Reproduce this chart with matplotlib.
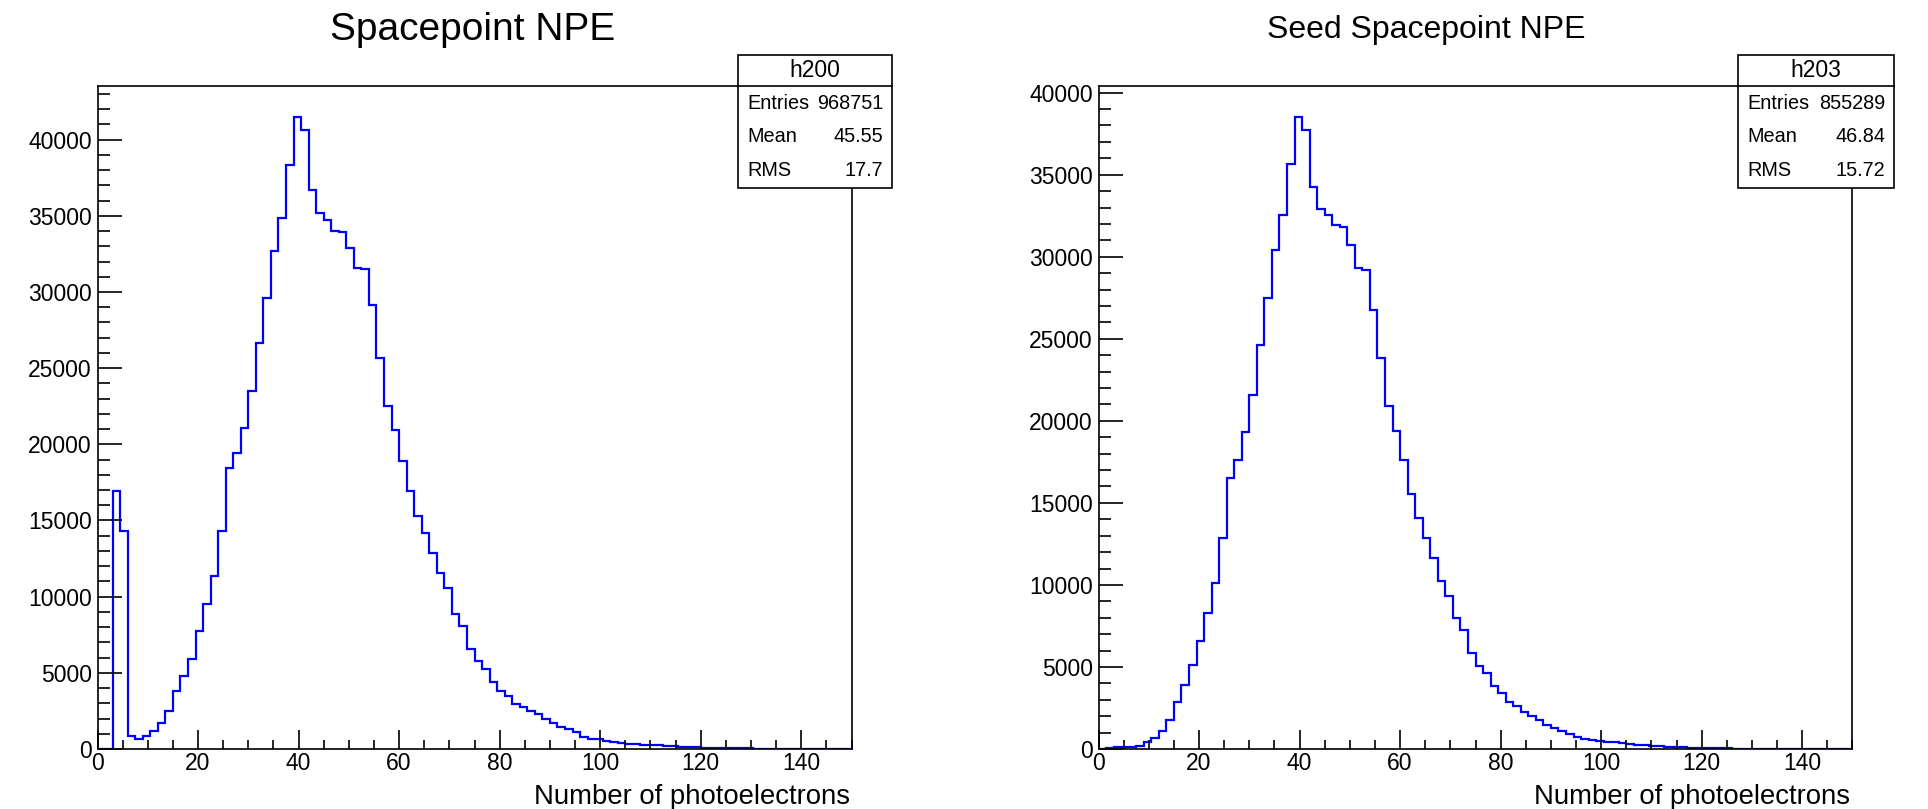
import numpy as np
import matplotlib
matplotlib.use("Agg")
import matplotlib.pyplot as plt
from matplotlib.patches import Rectangle
from matplotlib.lines import Line2D
from matplotlib.ticker import MultipleLocator

plt.rcParams["font.family"] = ["Liberation Sans", "DejaVu Sans"]

W, H = 1928, 809

# 100 bins of 1.5 photoelectrons, 0..150
edges = np.linspace(0, 150, 101)

npe_all = [
    0, 30, 16960, 14340, 850, 680, 850, 1180, 1680, 2510,
    3800, 4800, 5940, 7730, 9540, 11330, 14320, 18420, 19450, 21090,
    23510, 26650, 29600, 32720, 34880, 38330, 41480, 40650, 36690, 35210,
    34740, 34030, 33950, 32900, 31590, 31500, 29120, 25670, 22530, 20930,
    18900, 16960, 15320, 14170, 12860, 11550, 10540, 8880, 8080, 6590,
    5760, 5260, 4430, 3820, 3450, 2970, 2770, 2490, 2270, 1940,
    1680, 1460, 1310, 1090, 770, 670, 630, 540, 440, 400,
    360, 320, 290, 260, 230, 200, 170, 150, 130, 110,
    90, 80, 60, 50, 45, 40, 35, 30, 28, 25,
    22, 20, 18, 16, 15, 13, 12, 0, 11, 10,
]
npe_seed = [
    20, 50, 100, 120, 150, 210, 410, 660, 1120, 1770,
    2840, 3900, 5110, 6590, 8270, 10130, 12850, 16540, 17630, 19310,
    21580, 24620, 27510, 30390, 32550, 35650, 38510, 37740, 34220, 32880,
    32550, 31940, 31790, 30730, 29320, 29200, 26760, 23850, 20920, 19390,
    17610, 15570, 14090, 12860, 11630, 10240, 9350, 7980, 7250, 5830,
    5080, 4610, 3830, 3430, 2870, 2600, 2240, 1990, 1760, 1480,
    1290, 1120, 920, 730, 590, 530, 480, 450, 420, 360,
    300, 260, 220, 190, 160, 140, 120, 100, 80, 70,
    60, 50, 40, 35, 30, 28, 25, 22, 20, 18,
    16, 15, 13, 12, 11, 10, 0, 9, 8, 0,
]

titles = ["Spacepoint NPE", "Seed Spacepoint NPE"]
title_size = [28, 23]
names = ["h200", "h203"]
entries = ["968751", "855289"]
means = ["45.55", "46.84"]
rmss = ["17.7", "15.72"]
xlabel = "Number of photoelectrons"

# pixel geometry (left, right) of each frame, shared top/bottom
frames = [(97.5, 851.5), (1098.5, 1852.5)]
top, bottom = 85.5, 749.0
boxes = [(737.5, 891.5), (1737.5, 1893.5)]
title_x = [473, 1426]

fx = lambda x: x / W
fy = lambda y: 1 - y / H

fig = plt.figure(figsize=(W / 100, H / 100), dpi=100)

for k, vals in enumerate([npe_all, npe_seed]):
    x0, x1 = frames[k]
    ax = fig.add_axes([fx(x0), fy(bottom), fx(x1 - x0), (bottom - top) / H])
    ax.stairs(vals, edges, baseline=0, color="#0000ff", lw=1.6)
    ax.set_xlim(0, 150)
    ax.set_ylim(0, 1.05 * max(vals))
    ax.xaxis.set_major_locator(MultipleLocator(20))
    ax.xaxis.set_minor_locator(MultipleLocator(5))
    ax.yaxis.set_major_locator(MultipleLocator(5000))
    ax.yaxis.set_minor_locator(MultipleLocator(1000))
    ax.tick_params(which="both", direction="in", top=False, right=False,
                   width=1.2, labelsize=16.5, colors="black")
    ax.tick_params(axis="y", which="major", length=17, pad=4)
    ax.tick_params(axis="y", which="minor", length=8.5)
    ax.tick_params(axis="x", which="major", length=13.5, pad=2)
    ax.tick_params(axis="x", which="minor", length=6.8)
    for s in ax.spines.values():
        s.set_linewidth(1.2)

    fig.text(fx(x1 - 2), fy(797), xlabel, ha="right", va="center", fontsize=19.8)
    fig.text(fx(title_x[k]), fy(30), titles[k], ha="center", va="center",
             fontsize=title_size[k])

    # stats box
    b0, b1 = boxes[k]
    fig.add_artist(Rectangle((fx(b0), fy(187.5)), fx(b1 - b0), (187.5 - 54.7) / H,
                             transform=fig.transFigure, facecolor="white",
                             edgecolor="black", lw=1.2, zorder=5))
    fig.add_artist(Line2D([fx(b0), fx(b1)], [fy(85.5), fy(85.5)],
                          transform=fig.transFigure, color="black", lw=1.2, zorder=6))
    fig.text(fx((b0 + b1) / 2), fy(70.5), names[k], ha="center", va="center",
             fontsize=16.5, zorder=7)
    for row, (lab, val) in enumerate(zip(["Entries", "Mean", "RMS"],
                                         [entries[k], means[k], rmss[k]])):
        yy = 103.5 + row * 33.3
        fig.text(fx(b0 + 10), fy(yy), lab, ha="left", va="center", fontsize=14.3, zorder=7)
        fig.text(fx(b1 - 8), fy(yy), val, ha="right", va="center", fontsize=14.3, zorder=7)

fig.savefig("out.png", dpi=100)
